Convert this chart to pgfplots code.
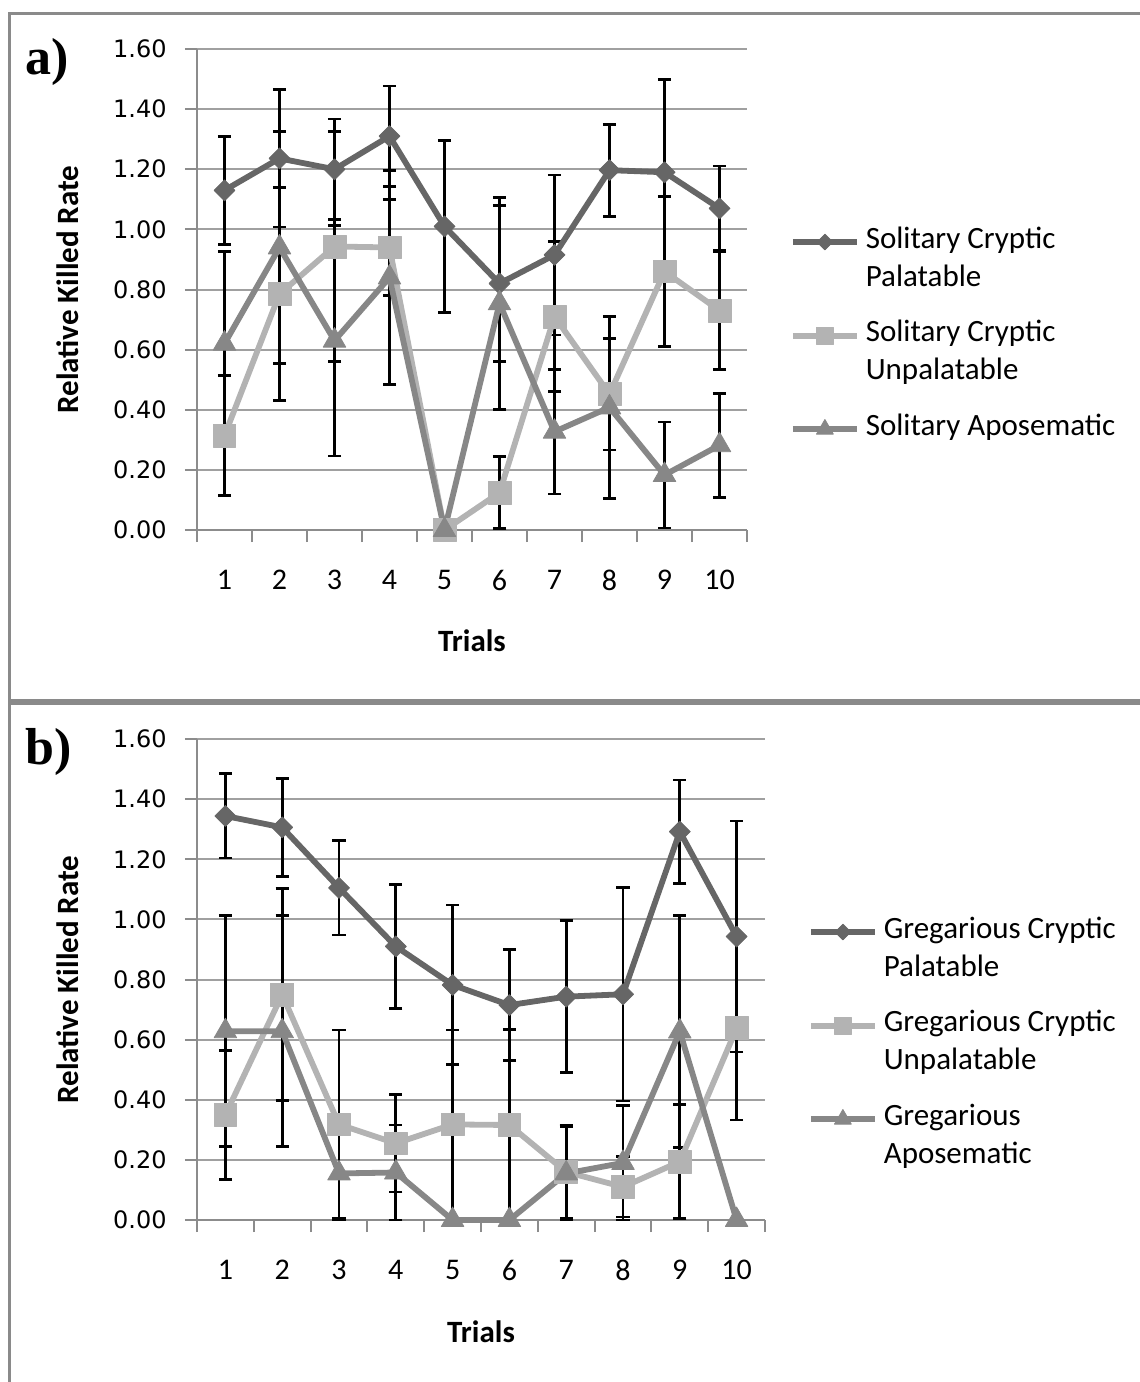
\documentclass[border=0pt]{standalone}
\usepackage{fontspec}
\setmainfont{Carlito}
\newfontfamily\tickfont{DejaVu Sans}
\newfontfamily\panelfont{Liberation Serif}
\usepackage{pgfplots}
\pgfplotsset{compat=1.18}
\definecolor{cA}{HTML}{666666}
\definecolor{cB}{HTML}{B3B3B3}
\definecolor{cC}{HTML}{878787}
\definecolor{gridc}{HTML}{A0A0A0}
\definecolor{axc}{HTML}{8C8C8C}
\definecolor{framec}{HTML}{8A8A8A}
\newcommand{\lgt}[1]{\smash{\raisebox{-3.75pt}{\parbox[t]{9cm}{\raggedright #1}}}}
\pgfplotsset{
  panel/.style={
    scale only axis, height=240.5pt,
    xmin=0.5, xmax=10.5, ymin=0, ymax=1.6,
    axis lines*=left, clip=false,
    axis line style={draw=axc, line width=1pt},
    tick align=outside,
    major tick length=0pt, minor tick length=6pt,
    tick style={draw=axc, line width=1pt},
    xtick={1,2,3,4,5,6,7,8,9,10},
    xticklabels={1,2,3,4,5,6,7,8,9,10},
    minor xtick={0.5,1.5,2.5,3.5,4.5,5.5,6.5,7.5,8.5,9.5,10.5},
    ytick={0,0.2,0.4,0.6,0.8,1.0,1.2,1.4,1.6},
    minor ytick={0,0.2,0.4,0.6,0.8,1.0,1.2,1.4,1.6},
    ymajorgrids, major grid style={draw=gridc, line width=1pt},
    yticklabel style={font=\tickfont\fontsize{12}{14}\selectfont, anchor=east, inner sep=0pt, xshift=-15pt,
      /pgf/number format/.cd, fixed, fixed zerofill, precision=2, assume math mode=true},
    xticklabel style={font=\fontsize{15}{18}\selectfont, anchor=north, inner sep=0pt, yshift=-20pt},
    xlabel={Trials},
    ylabel={Relative Killed Rate},
    label style={font=\fontsize{15.5}{18}\selectfont\bfseries, inner sep=0pt},
    legend cell align=left,
    legend image code/.code={\draw[##1, mark repeat=2, mark phase=2, every mark/.append style={scale=0.75}] plot coordinates {(0pt,0pt) (16pt,0pt) (32pt,0pt)};
      \path[draw=none, fill=none] (16pt,-10pt) -- (16pt,10pt);},
    legend style={anchor=north west, draw=none, fill=none, inner sep=0pt, outer sep=0pt,
      row sep=26.8pt, column sep=3pt, font=\fontsize{15.5}{19}\selectfont, nodes={inner sep=0pt}},
  },
  serA/.style={color=cA, line width=2.9pt, line join=round, mark=square*, mark size=3.7pt, mark options={rotate=45, line width=0.4pt, solid}},
  serB/.style={color=cB, line width=2.9pt, line join=round, mark=square*, mark size=5.7pt, mark options={line width=0.4pt, solid}},
  serC/.style={color=cC, line width=2.9pt, line join=round, mark=triangle*, mark size=6.5pt, mark options={line width=0.4pt, solid}},
  errbar/.style={forget plot, draw=none, mark=none, error bars/.cd, y dir=both, y explicit,
    error bar style={draw=black, line width=1.4pt},
    error mark options={draw=black, rotate=90, mark size=3.3pt, line width=1.4pt}},
}
\begin{document}
\begin{tikzpicture}
\useasboundingbox (0,0) rectangle (570pt,-691pt);
\draw[framec, line width=1.5pt] (4.5pt,-6.5pt) rectangle (578pt,-350pt);
\draw[framec, line width=1.5pt] (4.5pt,-351.5pt) rectangle (578pt,-700pt);
\node[font=\panelfont\bfseries\fontsize{26}{26}\selectfont, anchor=base west, inner sep=0pt] at (12.5pt,-37pt) {a)};
\node[font=\panelfont\bfseries\fontsize{26}{26}\selectfont, anchor=base west, inner sep=0pt] at (12.5pt,-382pt) {b)};

% ---------------- panel a ----------------
\begin{axis}[panel, width=275pt, at={(98.5pt,-265pt)}, anchor=south west,
  xlabel style={at={(axis description cs:0.5,-0.2536)}, anchor=base},
  ylabel style={at={(axis description cs:-0.2345,0.5)}, anchor=center},
  legend style={at={(1.0782,0.6403)}}]
\addplot[errbar] coordinates {(1,1.13) +- (0,0.18) (2,1.236) +- (0,0.228) (3,1.20) +- (0,0.167) (4,1.31) +- (0,0.167) (5,1.01) +- (0,0.286) (6,0.82) +- (0,0.26) (7,0.915) +- (0,0.266) (8,1.197) +- (0,0.153) (9,1.19) +- (0,0.308) (10,1.07) +- (0,0.141)};
\addplot[errbar] coordinates {(1,0.314) +- (0,0.2) (2,0.785) +- (0,0.354) (3,0.943) +- (0,0.383) (4,0.94) +- (0,0.16) (6,0.124) +- (0,0.12) (7,0.71) +- (0,0.25) (8,0.452) +- (0,0.186) (9,0.86) +- (0,0.25) (10,0.73) +- (0,0.196)};
\addplot[errbar] coordinates {(1,0.62) +- (0,0.306) (2,0.94) +- (0,0.385) (3,0.63) +- (0,0.384) (4,0.84) +- (0,0.357) (6,0.754) +- (0,0.353) (7,0.327) +- (0,0.207) (8,0.408) +- (0,0.303) (9,0.183) +- (0,0.176) (10,0.282) +- (0,0.173)};
\addplot[serA] coordinates {(1,1.13) (2,1.236) (3,1.20) (4,1.31) (5,1.01) (6,0.82) (7,0.915) (8,1.197) (9,1.19) (10,1.07)};
\addlegendentry{\lgt{Solitary Cryptic\\Palatable}}
\addplot[serB] coordinates {(1,0.314) (2,0.785) (3,0.943) (4,0.94) (5,0) (6,0.124) (7,0.71) (8,0.452) (9,0.86) (10,0.73)};
\addlegendentry{\lgt{Solitary Cryptic\\Unpalatable}}
\addplot[serC] coordinates {(1,0.62) (2,0.94) (3,0.63) (4,0.84) (5,0) (6,0.754) (7,0.327) (8,0.408) (9,0.183) (10,0.282)};
\addlegendentry{\lgt{Solitary Aposematic}}
\end{axis}

% ---------------- panel b ----------------
\begin{axis}[panel, width=284pt, at={(98.5pt,-610pt)}, anchor=south west,
  xlabel style={at={(axis description cs:0.5,-0.2536)}, anchor=base},
  ylabel style={at={(axis description cs:-0.2271,0.5)}, anchor=center},
  legend style={at={(1.0757,0.6403)}}]
\addplot[errbar] coordinates {(1,1.344) +- (0,0.14) (2,1.306) +- (0,0.163) (3,1.105) +- (0,0.157) (4,0.91) +- (0,0.207) (5,0.782) +- (0,0.266) (6,0.715) +- (0,0.185) (7,0.743) +- (0,0.253) (8,0.751) +- (0,0.355) (9,1.292) +- (0,0.172) (10,0.943) +- (0,0.384)};
\addplot[errbar] coordinates {(1,0.35) +- (0,0.215) (2,0.75) +- (0,0.353) (3,0.318) +- (0,0.314) (4,0.255) +- (0,0.162) (5,0.318) +- (0,0.314) (6,0.316) +- (0,0.318) (7,0.16) +- (0,0.155) (8,0.11) +- (0,0.10) (9,0.194) +- (0,0.19) (10,0.638) +- (0,0.305)};
\addplot[errbar] coordinates {(1,0.628) +- (0,0.384) (2,0.628) +- (0,0.384) (3,0.155) +- (0,0.155) (4,0.158) +- (0,0.158) (7,0.155) +- (0,0.155) (8,0.19) +- (0,0.19) (9,0.627) +- (0,0.385)};
\addplot[serA] coordinates {(1,1.344) (2,1.306) (3,1.105) (4,0.91) (5,0.782) (6,0.715) (7,0.743) (8,0.751) (9,1.292) (10,0.943)};
\addlegendentry{\lgt{Gregarious Cryptic\\Palatable}}
\addplot[serB] coordinates {(1,0.35) (2,0.75) (3,0.318) (4,0.255) (5,0.318) (6,0.316) (7,0.16) (8,0.11) (9,0.194) (10,0.638)};
\addlegendentry{\lgt{Gregarious Cryptic\\Unpalatable}}
\addplot[serC] coordinates {(1,0.628) (2,0.628) (3,0.155) (4,0.158) (5,0) (6,0) (7,0.155) (8,0.19) (9,0.627) (10,0)};
\addlegendentry{\lgt{Gregarious\\Aposematic}}
\end{axis}
\end{tikzpicture}
\end{document}
